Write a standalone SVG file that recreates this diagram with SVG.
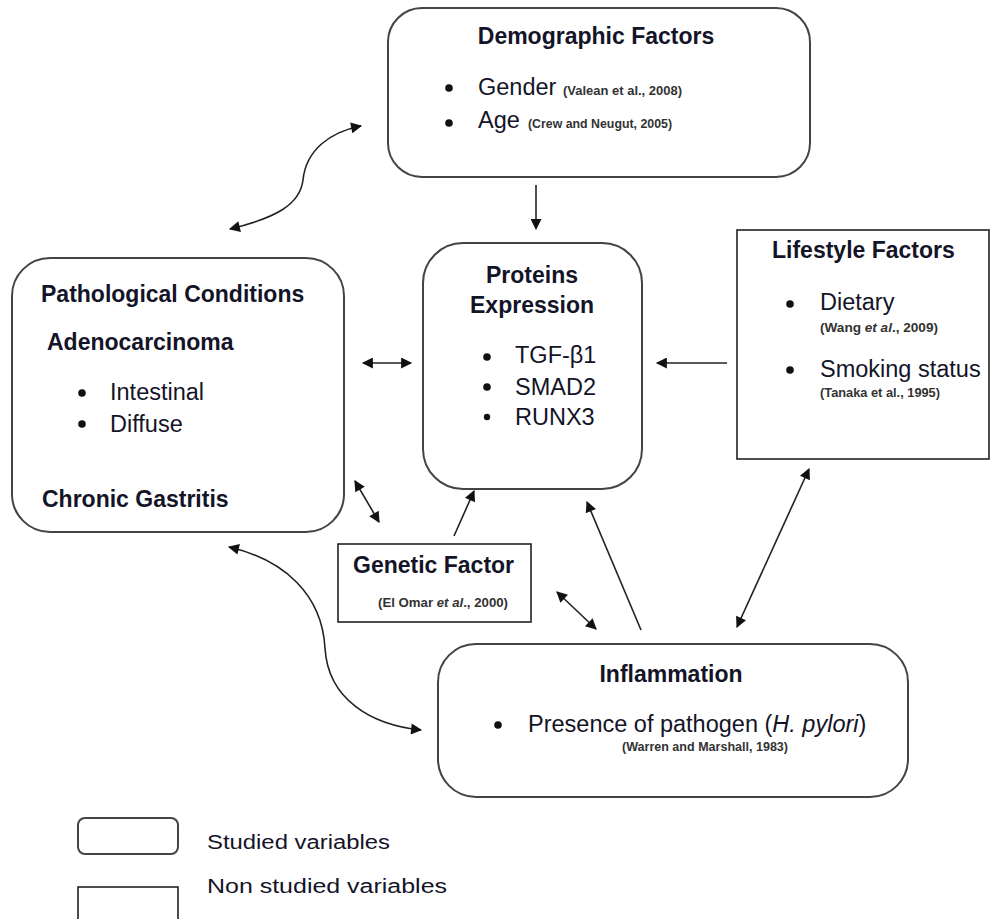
<svg xmlns="http://www.w3.org/2000/svg" width="990" height="919" viewBox="0 0 990 919">
<defs>
<style>
.rbox{fill:#fff;stroke:#444;stroke-width:2}
.sbox{fill:#fff;stroke:#222;stroke-width:1.6}
.t{font-family:"Liberation Sans",Arial,sans-serif;fill:#141428}
.h{font-size:23px;font-weight:bold}
.b{font-size:23.5px}
.c{font-size:12px;fill:#333;font-weight:bold}
.con{fill:none;stroke:#222;stroke-width:1.6}
</style>
<marker id="ah" viewBox="0 0 10 10" refX="9" refY="5" markerWidth="12" markerHeight="11" markerUnits="userSpaceOnUse" orient="auto-start-reverse">
<path d="M0,0 L10,5 L0,10 Z" fill="#111"/>
</marker>
</defs>
<rect width="990" height="919" fill="#fff"/>

<g id="connectors">
<path class="con" d="M230,229 C275,218 300,205 303,180 C306,150 330,132 361,126" marker-start="url(#ah)" marker-end="url(#ah)"/>
<path class="con" d="M536,185 L536,229" marker-end="url(#ah)"/>
<path class="con" d="M727,363 L657,363" marker-end="url(#ah)"/>
<path class="con" d="M363,363 L411,363" marker-start="url(#ah)" marker-end="url(#ah)"/>
<path class="con" d="M355,481 L379,522" marker-start="url(#ah)" marker-end="url(#ah)"/>
<path class="con" d="M454,536 L474,491" marker-end="url(#ah)"/>
<path class="con" d="M557,592 L596,629" marker-start="url(#ah)" marker-end="url(#ah)"/>
<path class="con" d="M641,630 L587,502" marker-end="url(#ah)"/>
<path class="con" d="M737,627 L809,469" marker-start="url(#ah)" marker-end="url(#ah)"/>
<path class="con" d="M229,547 C285,560 322,595 325,648 C328,700 372,725 421,730" marker-start="url(#ah)" marker-end="url(#ah)"/>
</g>

<g id="demographic">
<rect class="rbox" x="388" y="8" width="422" height="169" rx="34"/>
<text class="t h" x="596" y="44" text-anchor="middle">Demographic Factors</text>
<circle cx="449" cy="88" r="3.8" fill="#111"/>
<circle cx="449" cy="123" r="3.8" fill="#111"/>
<text class="t b" x="478" y="95">Gender</text>
<text class="t c" x="563" y="95" textLength="119" lengthAdjust="spacingAndGlyphs">(Valean et al., 2008)</text>
<text class="t b" x="478" y="128">Age</text>
<text class="t c" x="528" y="128" textLength="144" lengthAdjust="spacingAndGlyphs">(Crew and Neugut, 2005)</text>
</g>

<g id="proteins">
<rect class="rbox" x="423" y="243" width="219" height="246" rx="40"/>
<text class="t h" x="532" y="283" text-anchor="middle">Proteins</text>
<text class="t h" x="532" y="313" text-anchor="middle">Expression</text>
<circle cx="487" cy="357" r="3.8" fill="#111"/>
<circle cx="487" cy="387" r="3.8" fill="#111"/>
<circle cx="487" cy="417" r="3.2" fill="#111"/>
<text class="t b" x="515" y="363">TGF-β1</text>
<text class="t b" x="515" y="395">SMAD2</text>
<text class="t b" x="515" y="425">RUNX3</text>
</g>

<g id="lifestyle">
<rect class="sbox" x="737" y="230" width="252" height="229"/>
<text class="t h" x="772" y="258">Lifestyle Factors</text>
<circle cx="790" cy="304" r="3.8" fill="#111"/>
<text class="t b" x="820" y="310">Dietary</text>
<text class="t c" x="820" y="332" textLength="118" lengthAdjust="spacingAndGlyphs">(Wang <tspan font-style="italic">et al</tspan>., 2009)</text>
<circle cx="790" cy="370" r="3.8" fill="#111"/>
<text class="t b" x="820" y="377">Smoking status</text>
<text class="t c" x="820" y="397" textLength="120" lengthAdjust="spacingAndGlyphs">(Tanaka et al., 1995)</text>
</g>

<g id="pathological">
<rect class="rbox" x="12" y="258" width="332" height="274" rx="38"/>
<text class="t h" x="41" y="302">Pathological Conditions</text>
<text class="t h" x="47" y="350">Adenocarcinoma</text>
<circle cx="82" cy="393" r="3.8" fill="#111"/>
<circle cx="82" cy="424" r="3.8" fill="#111"/>
<text class="t b" x="110" y="400">Intestinal</text>
<text class="t b" x="110" y="432">Diffuse</text>
<text class="t h" x="42" y="507">Chronic Gastritis</text>
</g>

<g id="genetic">
<rect class="sbox" x="338" y="544" width="193" height="78"/>
<text class="t h" x="353" y="573">Genetic Factor</text>
<text class="t c" x="378" y="607" textLength="130" lengthAdjust="spacingAndGlyphs">(El Omar <tspan font-style="italic">et al</tspan>., 2000)</text>
</g>

<g id="inflammation">
<rect class="rbox" x="438" y="644" width="470" height="153" rx="38"/>
<text class="t h" x="671" y="682" text-anchor="middle">Inflammation</text>
<circle cx="498" cy="725" r="3.8" fill="#111"/>
<text class="t b" x="528" y="732">Presence of pathogen (<tspan font-style="italic">H. pylori</tspan>)</text>
<text class="t c" x="622" y="751" textLength="166" lengthAdjust="spacingAndGlyphs">(Warren and  Marshall, 1983)</text>
</g>

<g id="legend">
<rect class="rbox" x="78" y="818" width="100" height="36" rx="7"/>
<text class="t" x="207" y="849" font-size="20" textLength="183" lengthAdjust="spacingAndGlyphs">Studied variables</text>
<rect class="sbox" x="78" y="887" width="100" height="45"/>
<text class="t" x="207" y="893" font-size="20" textLength="240" lengthAdjust="spacingAndGlyphs">Non studied variables</text>
</g>
</svg>
